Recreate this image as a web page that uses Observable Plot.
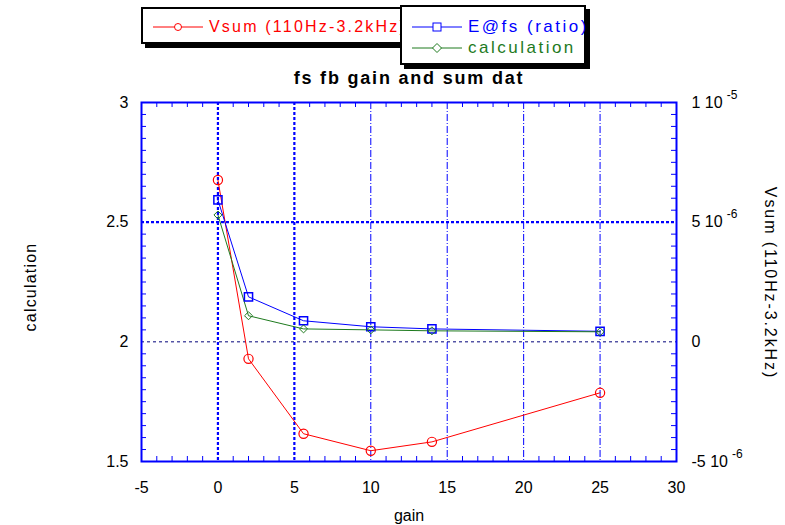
<!DOCTYPE html>
<html>
<head>
<meta charset="utf-8">
<script src="https://cdn.jsdelivr.net/npm/d3@7"></script>
<script src="https://cdn.jsdelivr.net/npm/@observablehq/plot@0.6"></script>
<style>
  html, body { margin: 0; padding: 0; background: #fff; }
  body { font-family: "Liberation Sans", Arial, sans-serif; }
  #wrap { position: relative; width: 785px; height: 525px; overflow: hidden; }
  .box { position: absolute; background: #fff; border: 2px solid #000; box-shadow: 4px 4px 0 #000; }
  .entry { position: absolute; height: 20px; display: flex; align-items: center; }
  .entry svg { display: block; }
  .entry span { margin-left: 6px; font-size: 16px; letter-spacing: 2.2px; white-space: nowrap; line-height: 20px; }
  .wide span { font-size: 17px; letter-spacing: 2.5px; }
</style>
</head>
<body>
<div id="wrap"></div>
<script>
// gain settings and the three measured series
const gain  = [0, 2, 5.6, 10, 14, 25];
const vsum  = [6.76e-6, -0.71e-6, -3.84e-6, -4.55e-6, -4.18e-6, -2.13e-6]; // V, right axis
const ratio = [2.593, 2.188, 2.088, 2.063, 2.054, 2.044];                   // E@fs (ratio)
const calc  = [2.530, 2.109, 2.054, 2.050, 2.046, 2.042];                   // calculation

// axis ticks
const xTicks = [-5, 0, 5, 10, 15, 20, 25, 30];
const yTicks = [1.5, 2, 2.5, 3];
const rightTicks = [-5e-6, 0, 5e-6, 1e-5];
const rightTickLabels = ["-5 10^-6", "0", "5 10^-6", "1 10^-5"];

// series names and colours
const seriesNames = ["Vsum (110Hz-3.2kHz)", "E@fs (ratio)", "calculation"];
const colors = {vsum: "#ff0000", ratio: "#0000ff", calc: "#1e7a1e"};

const W = 785, H = 525;
const mL = 141, mR = 109, mT = 102, mB = 64;
const fw = W - mL - mR, fh = H - mT - mB;

// Vsum shares the plot area with the left axis: 0 V sits at 2, ±5 µV at 2 ± 0.5
const toLeft = v => 2 + v * 1e5;

const rows = gain.map((g, i) => ({gain: g, vsum: vsum[i], ratio: ratio[i], calc: calc[i]}));

const xMinor = d3.range(-5, 31).filter(d => d % 5 !== 0);
const yMinor = d3.range(31).filter(i => i % 10 !== 0).map(i => 1.5 + i * 0.05);
const tickLen = 5;
const blue = "#0000ff";

const chart = Plot.plot({
  width: W, height: H,
  marginLeft: mL, marginRight: mR, marginTop: mT, marginBottom: mB,
  x: {domain: [-5, 30]},
  y: {domain: [1.5, 3]},
  style: {fontFamily: '"Liberation Sans", Arial, sans-serif', fontSize: "16px", color: "#000", background: "#fff"},
  marks: [
    // grid
    Plot.ruleX([10, 15, 20, 25], {stroke: blue, strokeWidth: 1, strokeDasharray: "7,2,1,2"}),
    Plot.ruleY([2], {stroke: "#00007a", strokeWidth: 1, strokeDasharray: "3,3"}),
    Plot.ruleX([0, 5], {stroke: blue, strokeWidth: 2.2, strokeDasharray: "3,2"}),
    Plot.ruleY([2.5], {stroke: blue, strokeWidth: 2.2, strokeDasharray: "3,2"}),
    // inward minor ticks on all four sides
    Plot.ruleX(xMinor, {stroke: blue, insetTop: fh - tickLen}),
    Plot.ruleX(xMinor, {stroke: blue, insetBottom: fh - tickLen}),
    Plot.ruleY(yMinor, {stroke: blue, insetRight: fw - tickLen}),
    Plot.ruleY(yMinor, {stroke: blue, insetLeft: fw - tickLen}),
    Plot.frame({stroke: blue, strokeWidth: 2}),
    // axes
    Plot.axisX({ticks: xTicks, tickSize: 0, tickPadding: 20, label: null, tickFormat: d => String(d)}),
    Plot.axisY({ticks: yTicks, tickSize: 0, tickPadding: 13, label: null, tickFormat: d => String(d)}),
    Plot.text(rightTicks, {
      y: toLeft, text: (d, i) => rightTickLabels[i],
      frameAnchor: "right", textAnchor: "start", lineAnchor: "middle", dx: 15
    }),
    // series
    Plot.line(rows, {x: "gain", y: d => toLeft(d.vsum), stroke: colors.vsum, strokeWidth: 1}),
    Plot.line(rows, {x: "gain", y: "ratio", stroke: colors.ratio, strokeWidth: 1}),
    Plot.line(rows, {x: "gain", y: "calc", stroke: colors.calc, strokeWidth: 1}),
    Plot.dot(rows, {x: "gain", y: d => toLeft(d.vsum), r: 4.6, stroke: colors.vsum, fill: "none", strokeWidth: 1.2}),
    Plot.dot(rows, {x: "gain", y: "ratio", symbol: "square", r: 4.6, stroke: colors.ratio, fill: "none", strokeWidth: 1.5}),
    Plot.dot(rows, {x: "gain", y: "calc", symbol: "diamond2", r: 3.6, stroke: colors.calc, fill: "none", strokeWidth: 1}),
    // titles
    Plot.text(["fs fb gain and sum dat"], {
      text: d => d, frameAnchor: "top", textAnchor: "middle", lineAnchor: "middle",
      dy: -24, fontWeight: "bold", fontSize: 18
    }),
    Plot.text(["gain"], {text: d => d, frameAnchor: "bottom", textAnchor: "middle", lineAnchor: "middle", dy: 54}),
    Plot.text(["calculation"], {
      text: d => d, frameAnchor: "left", textAnchor: "middle", lineAnchor: "middle",
      dx: -111, dy: 5, rotate: -90
    }),
    Plot.text([seriesNames[0]], {
      text: d => d, frameAnchor: "right", textAnchor: "middle", lineAnchor: "middle",
      dx: 94, dy: 1, rotate: 90
    })
  ]
});

const svg = d3.select(chart);
// exponents on the right axis labels
svg.selectAll("text").each(function () {
  const t = this.textContent;
  if (t.includes("^")) {
    const [base, exp] = t.split("^");
    const sel = d3.select(this).text(base);
    sel.append("tspan").attr("dx", 4).attr("dy", -9).attr("font-size", 12).text(exp);
  }
});
const spacing = {"calculation": 1.2, "fs fb gain and sum dat": 1.8};
spacing[seriesNames[0]] = 1.9;
svg.selectAll("text").filter(function () { return this.textContent in spacing; })
  .attr("letter-spacing", function () { return spacing[this.textContent]; });

const wrap = document.getElementById("wrap");
wrap.appendChild(chart);

// legend
function sample(kind, color) {
  const s = d3.create("svg").attr("width", 50).attr("height", 12);
  s.append("line").attr("x1", 0).attr("x2", 50).attr("y1", 6).attr("y2", 6).attr("stroke", color);
  if (kind === "circle") s.append("circle").attr("cx", 25).attr("cy", 6).attr("r", 3.5).attr("fill", "#fff").attr("stroke", color);
  if (kind === "square") s.append("rect").attr("x", 21).attr("y", 2).attr("width", 8).attr("height", 8).attr("fill", "#fff").attr("stroke", color);
  if (kind === "diamond") s.append("path").attr("d", "M25,1.5L29.5,6L25,10.5L20.5,6Z").attr("fill", "#fff").attr("stroke", color);
  return s.node();
}
function box(left, top, w, h, z) {
  const b = document.createElement("div");
  b.className = "box";
  Object.assign(b.style, {left: left + "px", top: top + "px", width: w + "px", height: h + "px", zIndex: z});
  wrap.appendChild(b);
  return b;
}
function entry(parent, left, top, kind, color, label, cls) {
  const e = document.createElement("div");
  e.className = "entry" + (cls ? " " + cls : "");
  Object.assign(e.style, {left: left + "px", top: top + "px"});
  e.appendChild(sample(kind, color));
  const sp = document.createElement("span");
  sp.textContent = label;
  sp.style.color = color;
  e.appendChild(sp);
  parent.appendChild(e);
}
const b1 = box(141, 7, 330, 33, 1);
entry(b1, 10, 8, "circle", colors.vsum, seriesNames[0]);
const b2 = box(400, 5, 182, 56, 2);
entry(b2, 10, 10, "square", colors.ratio, seriesNames[1], "wide");
entry(b2, 10, 31, "diamond", colors.calc, seriesNames[2], "wide");
</script>
</body>
</html>
